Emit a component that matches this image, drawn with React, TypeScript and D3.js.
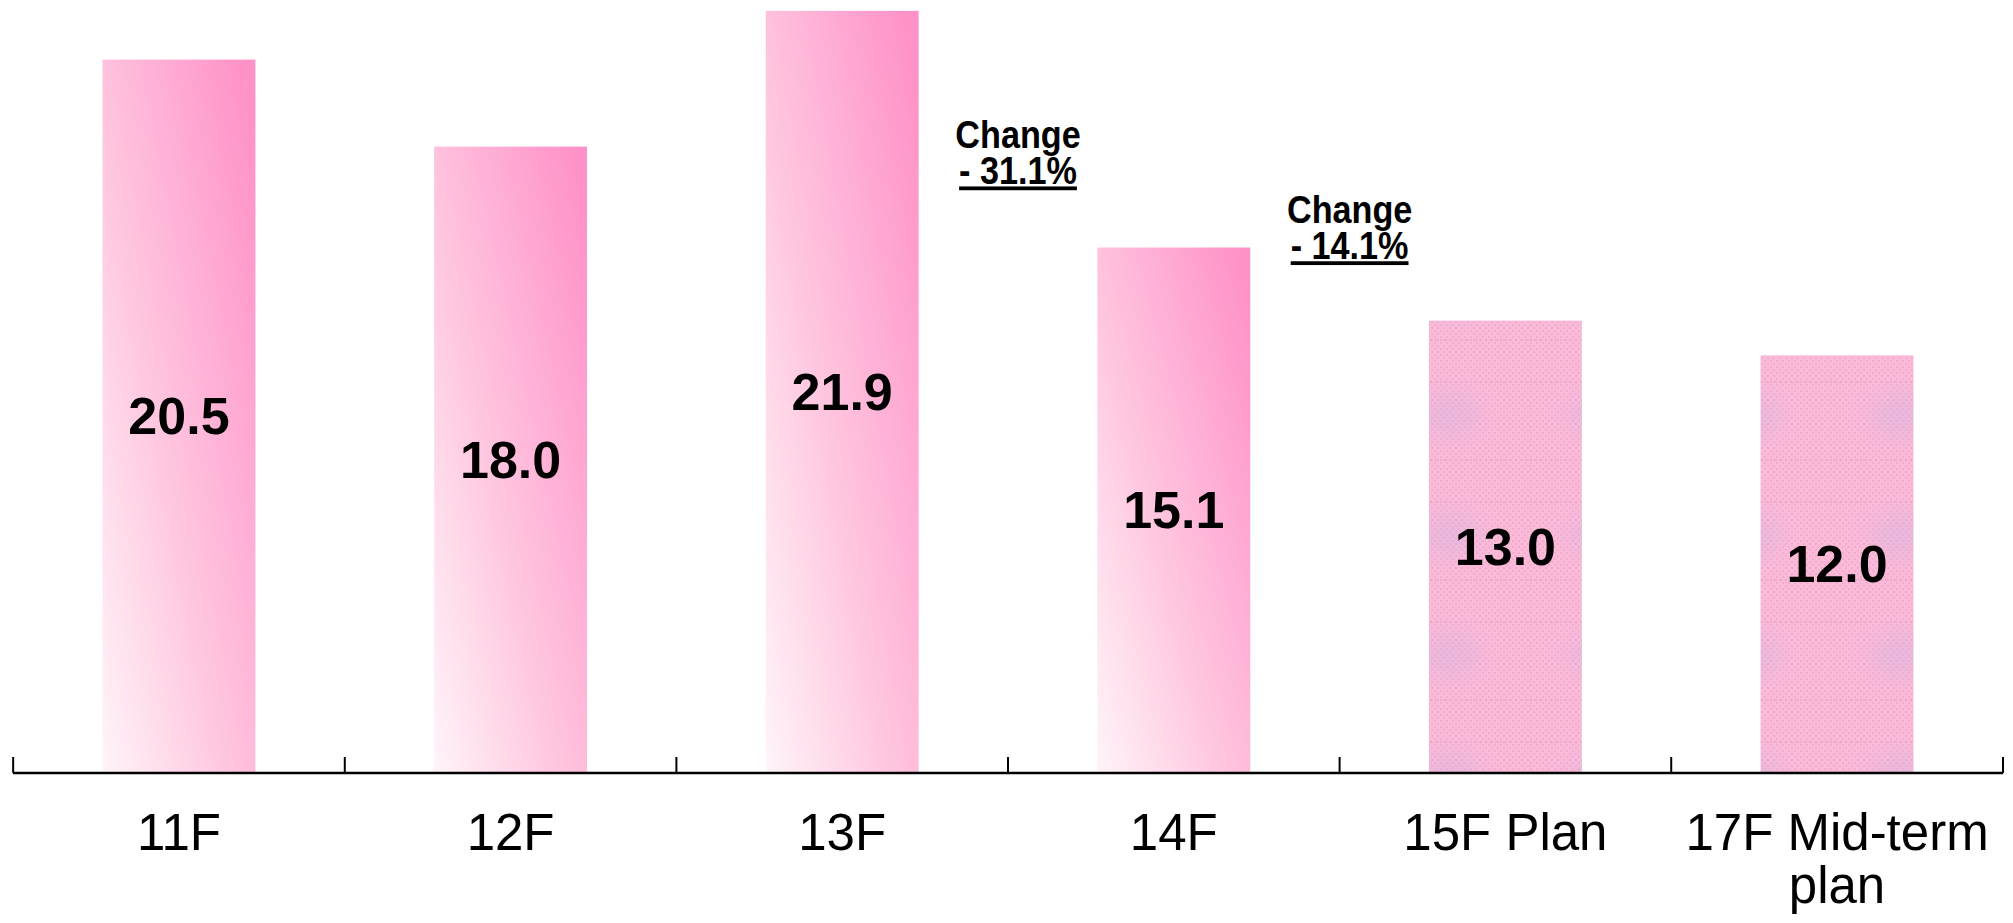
import React from "react";
import * as d3 from "d3";

const categories = ["11F", "12F", "13F", "14F", "15F Plan", "17F Mid-term plan"];
const labelLines = [["11F"], ["12F"], ["13F"], ["14F"], ["15F Plan"], ["17F Mid-term", "plan"]];
const values = [20.5, 18.0, 21.9, 15.1, 13.0, 12.0];
const isPlan = [false, false, false, false, true, true];
const changeAfter = [2, 3];
const changeTexts = ["- 31.1%", "- 14.1%"];
const changeTop = [17.95, 15.8];

const W = 2013;
const H = 923;

export default function App() {
  const x = d3
    .scaleBand<string>()
    .domain(categories)
    .range([13, 2003])
    .paddingInner(0.539)
    .paddingOuter(0.27);
  const y = d3.scaleLinear().domain([0, 22]).range([773, 773 - 22 * 34.8]);
  const step = x.step();
  const bw = x.bandwidth();
  const off = (step - bw) / 2;
  const ticks = categories.map((c) => (x(c) as number) - off);
  ticks.push(2003);

  return (
    <svg
      width={W}
      height={H}
      style={{ position: "absolute", left: 0, top: 0, display: "block", background: "#fff" }}
      fontFamily="'Liberation Sans', Arial, sans-serif"
    >
      <defs>
        <linearGradient id="histGrad" x1="0" y1="1" x2="1" y2="0.1">
          <stop offset="0" stopColor="#fff4f9" />
          <stop offset="0.45" stopColor="#ffc6df" />
          <stop offset="1" stopColor="#ff92c8" />
        </linearGradient>
        <filter id="blur" x="-50%" y="-50%" width="200%" height="200%">
          <feGaussianBlur stdDeviation="10" />
        </filter>
        <pattern id="fine" width="6" height="6" patternUnits="userSpaceOnUse">
          <rect width="6" height="6" fill="#fbbad8" />
          <rect x="0" y="0" width="2" height="2" fill="#eaa2c6" opacity="0.55" />
          <rect x="3" y="3" width="2" height="2" fill="#eaa2c6" opacity="0.55" />
        </pattern>
        <pattern id="plaid" width="150" height="120" patternUnits="userSpaceOnUse">
          <rect width="150" height="120" fill="url(#fine)" />
          <ellipse cx="100" cy="55" rx="32" ry="24" fill="#d0b4e2" opacity="0.35" filter="url(#blur)" />
          <line x1="0" y1="22" x2="150" y2="22" stroke="#e39bc2" strokeWidth="2" strokeDasharray="2 3" opacity="0.5" />
          <line x1="0" y1="100" x2="150" y2="100" stroke="#e39bc2" strokeWidth="2" strokeDasharray="2 3" opacity="0.5" />
          <line x1="30" y1="0" x2="30" y2="120" stroke="#f0a6cc" strokeWidth="1" strokeDasharray="2 3" opacity="0.45" />
        </pattern>
      </defs>

      {categories.map((c, i) => (
        <rect
          key={c}
          x={x(c)}
          y={y(values[i])}
          width={bw}
          height={y(0) - y(values[i])}
          fill={isPlan[i] ? "url(#plaid)" : "url(#histGrad)"}
        />
      ))}

      {categories.map((c, i) => (
        <text
          key={"v" + c}
          x={(x(c) as number) + bw / 2}
          y={(y(values[i]) + y(0)) / 2 + 18}
          textAnchor="middle"
          fontSize={52}
          fontWeight="bold"
          fill="#000"
        >
          {values[i].toFixed(1)}
        </text>
      ))}

      <line x1={13} x2={2003} y1={y(0)} y2={y(0)} stroke="#000" strokeWidth={2.5} />
      {ticks.map((t, i) => (
        <line key={"t" + i} x1={t} x2={t} y1={y(0) - 16} y2={y(0)} stroke="#000" strokeWidth={2} />
      ))}

      {categories.map((c, i) => (
        <text
          key={"l" + c}
          x={(x(c) as number) + bw / 2}
          y={850}
          textAnchor="middle"
          fontSize={51}
          fill="#000"
        >
          {labelLines[i].map((ln, j) => (
            <tspan key={j} x={(x(c) as number) + bw / 2} dy={j === 0 ? 0 : 53}>
              {ln}
            </tspan>
          ))}
        </text>
      ))}

      {changeAfter.map((ci, k) => {
        const cx = ticks[ci + 1] + 10;
        const by = y(changeTop[k]);
        return (
          <g key={"c" + k} transform={`translate(${cx},${by})`}>
            <g transform="scale(0.9,1)">
              <text x={0} y={0} textAnchor="middle" fontSize={38} fontWeight="bold" fill="#000">
                <tspan x={0} dy={0}>Change</tspan>
                <tspan x={0} dy={36} textDecoration="underline">
                  {changeTexts[k]}
                </tspan>
              </text>
            </g>
          </g>
        );
      })}
    </svg>
  );
}
